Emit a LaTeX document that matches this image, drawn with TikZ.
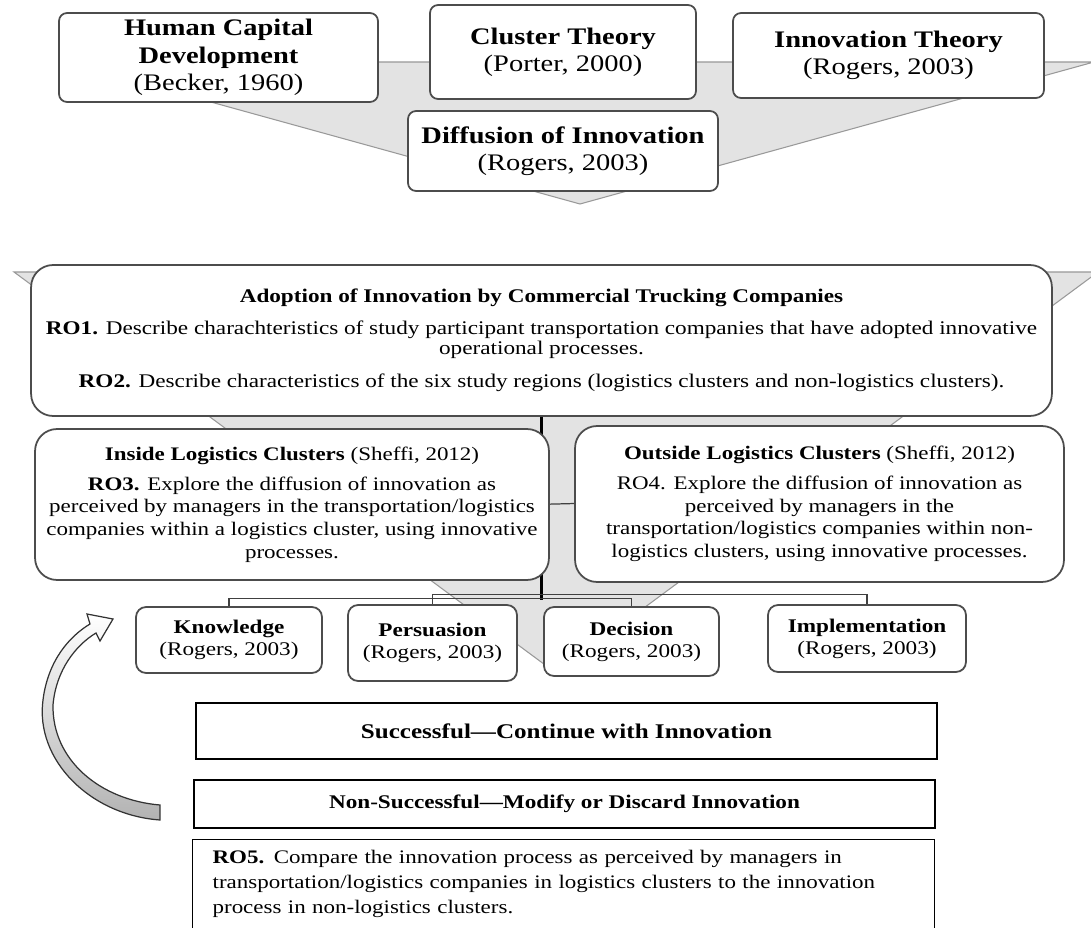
\documentclass[tikz,border=0pt]{standalone}
\usepackage{fontspec}
\setmainfont{Liberation Serif}[FakeStretch=1.2]
\usetikzlibrary{positioning}
\tikzset{
    funnel/.style={
        fill=black!11,
        draw=black!40,
        line width=0.6pt,
    },
    round box/.style={
        draw=black!70,
        fill=white,
        line width=1pt,
        align=center,
        inner sep=0pt,
    },
    theory box/.style={
        round box,
        rounded corners=1.6mm,
        font=\fontsize{13.5}{15.5}\selectfont,
    },
    objective box/.style={
        round box,
        rounded corners=4.4mm,
        font=\fontsize{11}{11.4}\selectfont,
    },
    cluster box/.style={
        round box,
        rounded corners=4.4mm,
        font=\fontsize{10.9}{12.9}\selectfont,
    },
    stage box/.style={
        round box,
        rounded corners=2mm,
        font=\fontsize{11}{12.5}\selectfont,
    },
    outcome box/.style={
        draw=black,
        fill=white,
        line width=0.7pt,
        align=center,
        inner sep=0pt,
        font=\bfseries\fontsize{11.4}{13}\selectfont,
    },
    tree link/.style={
        draw=black!75,
        line width=0.7pt,
    },
    loop arrow/.style={
        draw=black!80,
        line width=0.7pt,
        top color=white,
        bottom color=black!30,
    },
}

\begin{document}
\begin{tikzpicture}[x=0.02cm, y=-0.02cm]
    \useasboundingbox (0,0) rectangle (1091,928);

    % theories
    \filldraw[funnel] (66,62) -- (1094,62) -- (580,204) -- cycle;
    \node[theory box, minimum width=6.38cm, minimum height=1.78cm] (hcd) at (218.5,57.5)
        {\textbf{Human Capital}\\ \textbf{Development}\\ (Becker, 1960)};
    \node[theory box, minimum width=5.32cm, minimum height=1.88cm] (ct) at (563,52)
        {\textbf{Cluster Theory}\\ (Porter, 2000)};
    \node[theory box, minimum width=6.22cm, minimum height=1.70cm] (it) at (888.5,55.5)
        {\textbf{Innovation Theory}\\ (Rogers, 2003)};
    \node[theory box, minimum width=6.2cm, minimum height=1.6cm] (doi) at (563,151)
        {\textbf{Diffusion of Innovation}\\ (Rogers, 2003)};

    % research objectives
    \filldraw[funnel] (14,272) -- (1098,272) -- (556,673) -- cycle;
    \node[objective box, minimum width=20.42cm, minimum height=3.02cm] (adopt) at (541.5,340.5)
        {\textbf{Adoption of Innovation by Commercial Trucking Companies}\\[7pt]
         \textbf{RO1.} Describe charachteristics of study participant transportation companies that have adopted innovative\\
         operational processes.\\[7.5pt]
         \textbf{RO2.} Describe characteristics of the six study regions (logistics clusters and non-logistics clusters).};

    \draw[line width=1.3pt] (adopt.south) -- ++(0,183);
    \draw[tree link] (adopt.south) ++(0,87.5) -- (819.5-244.5,503.5);

    \node[cluster box, minimum width=10.28cm, minimum height=3.02cm] (inside) at (292,504.5)
        {\textbf{Inside Logistics Clusters} (Sheffi, 2012)\\[4pt]
         \textbf{RO3.} Explore the diffusion of innovation as\\
         perceived by managers in the transportation/logistics\\
         companies within a logistics cluster, using innovative\\
         processes.};
    \node[cluster box, minimum width=9.78cm, minimum height=3.12cm] (outside) at (819.5,504)
        {\textbf{Outside Logistics Clusters} (Sheffi, 2012)\\[4pt]
         RO4. Explore the diffusion of innovation as\\
         perceived by managers in the\\
         transportation/logistics companies within non-\\
         logistics clusters, using innovative processes.};

    % stages
    \node[stage box, minimum width=3.72cm, minimum height=1.32cm] (know) at (229,640)
        {\textbf{Knowledge}\\ (Rogers, 2003)};
    \node[stage box, minimum width=3.38cm, minimum height=1.52cm] (pers) at (432.5,643)
        {\textbf{Persuasion}\\ (Rogers, 2003)};
    \node[stage box, minimum width=3.5cm, minimum height=1.38cm] (dec) at (631.5,641.5)
        {\textbf{Decision}\\ (Rogers, 2003)};
    \node[stage box, minimum width=3.96cm, minimum height=1.34cm] (impl) at (867,638.5)
        {\textbf{Implementation}\\ (Rogers, 2003)};

    \draw[tree link] (know.north) -- ++(0,-8) -| (dec.north);
    \draw[tree link] (pers.north) -- ++(0,-10) -| (impl.north);

    % outcomes
    \node[outcome box, minimum width=14.82cm, minimum height=1.12cm, font=\bfseries\fontsize{11.9}{13}\selectfont] (succ) at (566.5,731)
        {Successful---Continue with Innovation};
    \node[outcome box, minimum width=14.82cm, minimum height=0.96cm, font=\bfseries\fontsize{11}{13}\selectfont] (nonsucc) at (564.5,804)
        {Non-Successful---Modify or Discard Innovation};
    \node[outcome box, anchor=north west, font=\fontsize{10.9}{14.2}\selectfont, align=left,
          text width=14.04cm, inner xsep=0.4cm, inner ysep=0.22cm] (ro5) at (192,839)
        {\textbf{RO5.} Compare the innovation process as perceived by managers in\\
         transportation/logistics companies in logistics clusters to the innovation\\
         process in non-logistics clusters.\\[3pt]};

    % back to knowledge
    \path[loop arrow] (160,820) .. controls (90,815) and (35,760) .. (43,700)
        .. controls (48,660) and (70,636) .. (90,624)
        -- (87,614) -- (113,619) -- (100,641) -- (96,633)
        .. controls (76,645) and (56,670) .. (53,705)
        .. controls (52,760) and (100,800) .. (160,805) -- cycle;

\end{tikzpicture}
\end{document}
